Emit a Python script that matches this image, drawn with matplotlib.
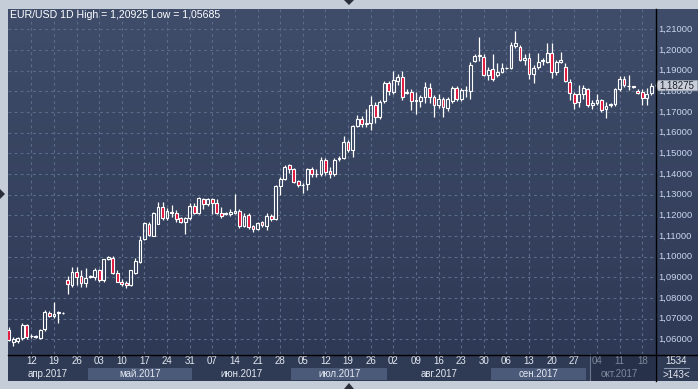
import numpy as np
import pandas as pd
import matplotlib.pyplot as plt
from matplotlib.patches import Rectangle, Polygon
from matplotlib.colors import LinearSegmentedColormap

plt.rcParams['font.family'] = ['Liberation Sans', 'DejaVu Sans']

W, H = 698, 389

# daily EUR/USD candles, 05.04.2017 - 20.10.2017
dates = pd.bdate_range("2017-04-05", "2017-10-20")

opens = [1.0645, 1.0585, 1.0590, 1.0604, 1.0668, 1.0615, 1.0617, 1.0608, 1.0648, 1.0728,
         1.0712, 1.0729, 1.0728, 1.0887, 1.0863, 1.0924, 1.0906, 1.0874, 1.0902, 1.0900,
         1.0935, 1.0886, 1.0987, 1.0995, 1.0922, 1.0879, 1.0872, 1.0863, 1.0922, 1.0975,
         1.1084, 1.1160, 1.1100, 1.1160, 1.1238, 1.1185, 1.1217, 1.1212, 1.1185, 1.1166,
         1.1185, 1.1246, 1.1212, 1.1277, 1.1254, 1.1277, 1.1258, 1.1210, 1.1208, 1.1206,
         1.1209, 1.1221, 1.1148, 1.1201, 1.1148, 1.1132, 1.1167, 1.1148, 1.1196, 1.1180,
         1.1342, 1.1378, 1.1442, 1.1422, 1.1364, 1.1345, 1.1351, 1.1422, 1.1400, 1.1400,
         1.1468, 1.1413, 1.1400, 1.1474, 1.1476, 1.1555, 1.1516, 1.1632, 1.1666, 1.1644,
         1.1645, 1.1732, 1.1674, 1.1755, 1.1840, 1.1798, 1.1851, 1.1867, 1.1790, 1.1798,
         1.1752, 1.1755, 1.1771, 1.1817, 1.1774, 1.1732, 1.1764, 1.1718, 1.1755, 1.1815,
         1.1762, 1.1804, 1.1803, 1.1946, 1.1972, 1.1967, 1.1879, 1.1906, 1.1879, 1.1895,
         1.1912, 1.1911, 1.2019, 1.2016, 1.1950, 1.1963, 1.1884, 1.1916, 1.1945, 1.1943,
         1.1987, 1.1895, 1.1942, 1.1919, 1.1846, 1.1787, 1.1750, 1.1787, 1.1810, 1.1734,
         1.1742, 1.1758, 1.1713, 1.1732, 1.1738, 1.1810, 1.1858, 1.1828, 1.1824, 1.1803,
         1.1798, 1.1766, 1.1790]
highs = [1.0660, 1.0610, 1.0612, 1.0680, 1.0676, 1.0625, 1.0620, 1.0652, 1.0741, 1.0738,
         1.0779, 1.0739, 1.0732, 1.0906, 1.0949, 1.0952, 1.0935, 1.0945, 1.0912, 1.0945,
         1.0942, 1.0990, 1.1005, 1.1002, 1.0935, 1.0890, 1.0880, 1.0935, 1.0992, 1.1102,
         1.1170, 1.1168, 1.1218, 1.1266, 1.1266, 1.1233, 1.1251, 1.1226, 1.1193, 1.1193,
         1.1258, 1.1258, 1.1287, 1.1282, 1.1282, 1.1282, 1.1279, 1.1241, 1.1218, 1.1231,
         1.1301, 1.1232, 1.1209, 1.1212, 1.1155, 1.1170, 1.1174, 1.1209, 1.1205, 1.1345,
         1.1387, 1.1444, 1.1449, 1.1428, 1.1373, 1.1355, 1.1428, 1.1436, 1.1425, 1.1484,
         1.1476, 1.1436, 1.1476, 1.1489, 1.1586, 1.1565, 1.1637, 1.1686, 1.1681, 1.1713,
         1.1777, 1.1750, 1.1760, 1.1849, 1.1849, 1.1896, 1.1886, 1.1896, 1.1810, 1.1812,
         1.1798, 1.1781, 1.1846, 1.1838, 1.1781, 1.1785, 1.1774, 1.1771, 1.1825, 1.1827,
         1.1815, 1.1825, 1.1944, 1.1980, 1.2065, 1.1982, 1.1918, 1.1980, 1.1935, 1.1939,
         1.1919, 1.2040, 1.20925, 1.2022, 1.1980, 1.1985, 1.1925, 1.1985, 1.1960, 1.2032,
         1.2032, 1.1950, 1.1988, 1.1935, 1.1858, 1.1795, 1.1830, 1.1830, 1.1815, 1.1760,
         1.1785, 1.1765, 1.1750, 1.1745, 1.1815, 1.1875, 1.1874, 1.1878, 1.1826, 1.1810,
         1.1810, 1.1815, 1.1839]
lows = [1.0590, 1.05685, 1.0580, 1.0597, 1.0601, 1.0605, 1.0608, 1.0602, 1.0642, 1.0706,
        1.0705, 1.0680, 1.0724, 1.0819, 1.0853, 1.0861, 1.0853, 1.0853, 1.0896, 1.0889,
        1.0879, 1.0875, 1.0983, 1.0915, 1.0875, 1.0860, 1.0847, 1.0856, 1.0915, 1.0970,
        1.1082, 1.1098, 1.1098, 1.1157, 1.1176, 1.1176, 1.1190, 1.1170, 1.1161, 1.1108,
        1.1176, 1.1204, 1.1204, 1.1231, 1.1243, 1.1204, 1.1204, 1.1186, 1.1200, 1.1195,
        1.1204, 1.1137, 1.1142, 1.1132, 1.1118, 1.1129, 1.1143, 1.1129, 1.1172, 1.1178,
        1.1300, 1.1373, 1.1403, 1.1355, 1.1335, 1.1310, 1.1322, 1.1386, 1.1386, 1.1391,
        1.1397, 1.1382, 1.1391, 1.1462, 1.1471, 1.1506, 1.1481, 1.1629, 1.1629, 1.1629,
        1.1613, 1.1648, 1.1667, 1.1745, 1.1784, 1.1788, 1.1829, 1.1757, 1.1785, 1.1710,
        1.1688, 1.1722, 1.1743, 1.1743, 1.1678, 1.1720, 1.1676, 1.1707, 1.1745, 1.1752,
        1.1755, 1.1772, 1.1765, 1.1943, 1.1948, 1.1875, 1.1855, 1.1848, 1.1867, 1.1889,
        1.1909, 1.1909, 1.2010, 1.1945, 1.1925, 1.1860, 1.1838, 1.1910, 1.1925, 1.1937,
        1.1863, 1.1880, 1.1935, 1.1845, 1.1757, 1.1713, 1.1723, 1.1765, 1.1723, 1.1715,
        1.1735, 1.1700, 1.1669, 1.1725, 1.1730, 1.1800, 1.1820, 1.1808, 1.1818, 1.1785,
        1.1732, 1.1732, 1.1780]
closes = [1.0597, 1.0600, 1.0604, 1.0668, 1.0612, 1.0617, 1.0613, 1.0645, 1.0733, 1.0712,
          1.0721, 1.0731, 1.0729, 1.0866, 1.0927, 1.0903, 1.0874, 1.0895, 1.0904, 1.0935,
          1.0886, 1.0988, 1.1000, 1.0922, 1.0879, 1.0867, 1.0863, 1.0935, 1.0980, 1.1082,
          1.1164, 1.1104, 1.1212, 1.1238, 1.1185, 1.1222, 1.1209, 1.1180, 1.1166, 1.1185,
          1.1246, 1.1212, 1.1282, 1.1254, 1.1277, 1.1258, 1.1209, 1.1196, 1.1210, 1.1217,
          1.1221, 1.1148, 1.1198, 1.1142, 1.1132, 1.1164, 1.1151, 1.1196, 1.1180, 1.1342,
          1.1378, 1.1436, 1.1422, 1.1362, 1.1345, 1.1348, 1.1422, 1.1400, 1.1401, 1.1468,
          1.1411, 1.1400, 1.1468, 1.1477, 1.1555, 1.1516, 1.1632, 1.1666, 1.1642, 1.1646,
          1.1732, 1.1674, 1.1750, 1.1842, 1.1800, 1.1855, 1.1867, 1.1771, 1.1795, 1.1753,
          1.1756, 1.1771, 1.1822, 1.1774, 1.1732, 1.1762, 1.1722, 1.1761, 1.1815, 1.1762,
          1.1806, 1.1806, 1.1927, 1.1971, 1.1975, 1.1879, 1.1903, 1.1858, 1.1895, 1.1911,
          1.1915, 1.2024, 1.2032, 1.1951, 1.1960, 1.1884, 1.1914, 1.1943, 1.1950, 1.1987,
          1.1895, 1.1943, 1.1950, 1.1851, 1.1793, 1.1745, 1.1787, 1.1814, 1.1734, 1.1742,
          1.1758, 1.1710, 1.1729, 1.1737, 1.1810, 1.1858, 1.1830, 1.1824, 1.1822, 1.1793,
          1.1766, 1.1787, 1.18275]

title_txt = "EUR/USD 1D High = 1,20925 Low = 1,05685"
last_price = 1.18275
price_levels = [1.06, 1.07, 1.08, 1.09, 1.10, 1.11, 1.12, 1.13, 1.14, 1.15,
                1.16, 1.17, 1.18, 1.19, 1.20, 1.21]
month_names = ["апр.2017", "май.2017", "июн.2017", "июл.2017",
               "авг.2017", "сен.2017", "окт.2017"]
faded_from = "2017-10-03"
bars_total = "1534"
bars_shown = ">143<"

o = np.array(opens); h = np.array(highs); l = np.array(lows); c = np.array(closes)
idx = np.arange(len(dates))

frame_col = "#c5cdd9"
bg_top, bg_bot = "#3f4d6a", "#2e3955"
grid_col = "#5b6b8a"
red = "#e0123a"
txt_col = "#e4e9f1"
dim_col = "#7d889c"

xlo, xhi = -0.15, 142.83
ylo, yhi = 1.05289, 1.21982

def px(x0, y0, x1, y1):
    return [x0 / W, 1 - y1 / H, (x1 - x0) / W, (y1 - y0) / H]

grad = LinearSegmentedColormap.from_list("bg", [bg_bot, bg_top])

fig = plt.figure(figsize=(W / 100, H / 100), dpi=100)
fig.patch.set_facecolor(frame_col)

# main chart
ax = fig.add_axes(px(8, 9, 655, 354))
ax.imshow(np.linspace(0, 1, 256).reshape(-1, 1)[::-1], cmap=grad, aspect="auto",
          extent=[xlo, xhi, ylo, yhi], zorder=0)
ax.set_xlim(xlo, xhi)
ax.set_ylim(ylo, yhi)
ax.set_axis_off()

wed = idx[dates.weekday == 2]
wed = wed[wed - xlo > 2.5]   # no label squeezed against the left edge
for lv in price_levels:
    ax.axhline(lv, color=grid_col, lw=0.8, ls=(0, (2.5, 3)), zorder=1)
for wv in wed:
    ax.axvline(wv, color=grid_col, lw=0.8, ls=(0, (2.5, 3)), zorder=1)

top = np.maximum(o, c)
bot = np.minimum(o, c)
ax.vlines(idx, top, h, color="white", lw=0.9, zorder=2)
ax.vlines(idx, l, bot, color="white", lw=0.9, zorder=2)
body = np.maximum(top - bot, 0.00004)
fill = [red if cc < oo else "none" for oo, cc in zip(o, c)]
ax.bar(idx, body, bottom=bot, width=0.62, color=fill, edgecolor="white",
       linewidth=0.8, zorder=3)

fig.text(10 / W, 1 - 15 / H, title_txt, color="white", fontsize=7.6,
         ha="left", va="center")

# price scale
pax = fig.add_axes(px(655, 9, 698, 354))
pax.imshow(np.linspace(0, 1, 256).reshape(-1, 1)[::-1], cmap=grad, aspect="auto",
           extent=[0, 1, ylo, yhi], zorder=0)
pax.set_xlim(0, 1)
pax.set_ylim(ylo, yhi)
pax.set_axis_off()
for lv in price_levels:
    pax.text(0.08, lv, f"{lv:.5f}".replace(".", ","), color="#c9d6ec",
             fontsize=6.8, ha="left", va="center", zorder=2)
# the price tag sits on top of the nearby level label, as in the terminal
tag = Polygon([[0.01, last_price], [0.08, last_price + 0.0025],
               [0.99, last_price + 0.0025], [0.99, last_price - 0.0025],
               [0.08, last_price - 0.0025]], closed=True,
              facecolor="#c9ced8", edgecolor="#9aa3b2", lw=0.6, zorder=3)
pax.add_patch(tag)
pax.text(0.11, last_price, f"{last_price:.5f}".replace(".", ","), color="#1c2230",
         fontsize=7, ha="left", va="center", zorder=4)

# date scale
dax = fig.add_axes(px(8, 354, 655, 381))
dax.set_xlim(xlo, xhi)
dax.set_ylim(0, 27)
dax.set_axis_off()
dax.add_patch(Rectangle((xlo, 0), xhi - xlo, 27, facecolor="#2f3a55", zorder=0))
months = dates.to_period("M")
for k, m in enumerate(months.unique()):
    sel = idx[months == m]
    a = max(sel[0] - 0.5, xlo)
    b = min(sel[-1] + 0.5, xhi)
    if k % 2 == 1:
        dax.add_patch(Rectangle((a, 1), b - a, 12, facecolor="#4b5a79", zorder=1))
    col = dim_col if k == len(month_names) - 1 else txt_col
    dax.text((a + b) / 2, 7, month_names[k], color=col, fontsize=7,
             ha="center", va="center", zorder=3)
f0 = idx[dates >= pd.Timestamp(faded_from)][0] - 0.5
dax.add_patch(Rectangle((f0, 0), xhi - f0, 27, facecolor="#222b40", alpha=0.55, zorder=2))
dax.axvline(f0, color="#6c7890", lw=0.8, zorder=3)
for wv in wed:
    col = dim_col if wv >= f0 else txt_col
    dax.text(wv, 19.5, dates[wv].strftime("%d"), color=col, fontsize=7,
             ha="center", va="center", zorder=3)

# corner box
cax = fig.add_axes(px(655, 354, 698, 381))
cax.set_xlim(0, 1)
cax.set_ylim(0, 27)
cax.set_axis_off()
cax.add_patch(Rectangle((0, 0), 1, 27, facecolor="#2f3a55", zorder=0))
cax.text(0.5, 19.5, bars_total, color=txt_col, fontsize=7, ha="center", va="center")
cax.plot([0.22, 0.8], [13.5, 13.5], color="#8c97aa", lw=0.8)
cax.text(0.5, 6.5, bars_shown, color=txt_col, fontsize=7, ha="center", va="center")

# separators and scroll arrows
fig.add_artist(plt.Line2D([655.5 / W, 655.5 / W], [1 - 381 / H, 1 - 9 / H],
                          color="black", lw=1.0))
fig.add_artist(plt.Line2D([8 / W, 1], [1 - 354.5 / H, 1 - 354.5 / H],
                          color="black", lw=1.0))
for pts in ([[344, 0], [354, 0], [349, 5]],
            [[344, 389], [354, 389], [349, 383]],
            [[0, 189], [0, 199], [5, 194]]):
    fig.add_artist(Polygon([[x / W, 1 - y / H] for x, y in pts], closed=True,
                           facecolor="#2a2f3a", edgecolor="none"))

fig.savefig("out.png", dpi=100, facecolor=fig.get_facecolor())
